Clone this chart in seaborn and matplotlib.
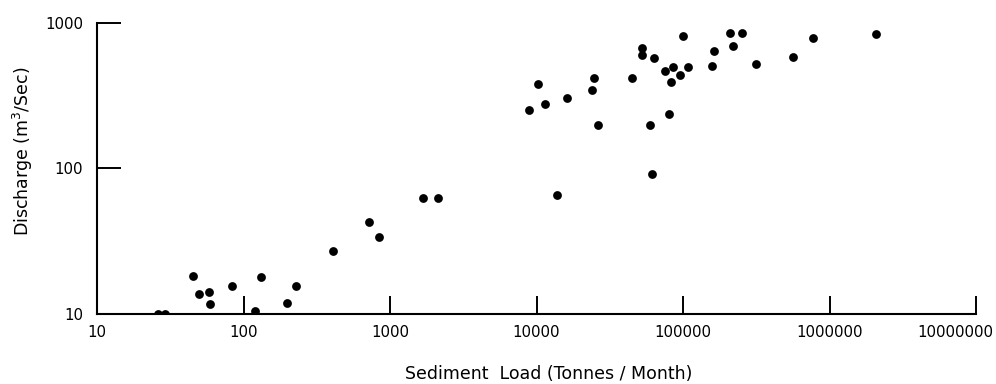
import matplotlib
matplotlib.use("Agg")
import matplotlib.pyplot as plt
import matplotlib.transforms as mtransforms
import pandas as pd
import seaborn as sns

# values
sediment_load = [26, 29, 45, 49.5, 58, 59.5, 83, 119, 132, 198, 228, 411, 723, 843, 1680, 2120,
                 8870, 10160, 11500, 13770, 16100, 24000, 24600, 26200, 45000, 52100, 52400,
                 59400, 61300, 63600, 75600, 80500, 83000, 84800, 95100, 100300, 108600,
                 158000, 162500, 209000, 219000, 251000, 316000, 560000, 770000, 2075000]
discharge = [10.0, 10.0, 18.2, 13.8, 14.2, 11.8, 15.6, 10.5, 17.9, 11.9, 15.7, 26.9, 42.8, 33.9, 62.8, 62.6,
             251, 377, 276, 65.6, 302, 344, 415, 200, 417, 667, 600,
             198, 91, 569, 463, 236, 391, 498, 437, 813, 495,
             501, 638, 849, 691, 849, 517, 583, 784, 831]

x_ticks = [10, 100, 1000, 10000, 100000, 1000000, 10000000]
y_ticks = [10, 100, 1000]

df = pd.DataFrame({"load": sediment_load, "discharge": discharge})

sns.set_style("ticks")
plt.rcParams['font.family'] = ['DejaVu Sans']
plt.rcParams['text.color'] = 'black'
plt.rcParams['axes.labelcolor'] = 'black'
plt.rcParams['xtick.color'] = 'black'
plt.rcParams['ytick.color'] = 'black'

fig = plt.figure(figsize=(9.96, 3.84), dpi=100)
ax = fig.add_axes([0.0974, 0.182, 0.8826, 0.759])

sns.scatterplot(data=df, x="load", y="discharge", ax=ax, color="black",
                s=40, edgecolor="black", linewidth=0, legend=False)

ax.set_xscale("log")
ax.set_yscale("log")
ax.set_xlim(10, 10000000)
ax.set_ylim(10, 1000)
ax.set_xticks(x_ticks)
ax.set_xticklabels([str(t) for t in x_ticks], fontsize=10.8)
ax.set_yticks(y_ticks)
ax.set_yticklabels([str(t) for t in y_ticks], fontsize=10.8)
ax.minorticks_off()
ax.tick_params(axis="x", direction="in", length=13, width=1.4, pad=8)
ax.tick_params(axis="y", direction="in", length=17, width=1.4, pad=10)

# last x label sits a bit left of its tick so it fits
last = ax.get_xticklabels()[-1]
last.set_transform(last.get_transform() + mtransforms.ScaledTranslation(-0.21, 0, fig.dpi_scale_trans))

sns.despine(ax=ax)
for side in ["left", "bottom"]:
    ax.spines[side].set_linewidth(1.5)
    ax.spines[side].set_color("black")

ax.set_xlabel("Sediment  Load (Tonnes / Month)", fontsize=12.5)
ax.xaxis.set_label_coords(0.514, -0.175)
ax.set_ylabel("Discharge (m$^3$/Sec)", fontsize=12.5)
ax.yaxis.set_label_coords(-0.07, 0.56)

fig.savefig("out.png", dpi=100)
